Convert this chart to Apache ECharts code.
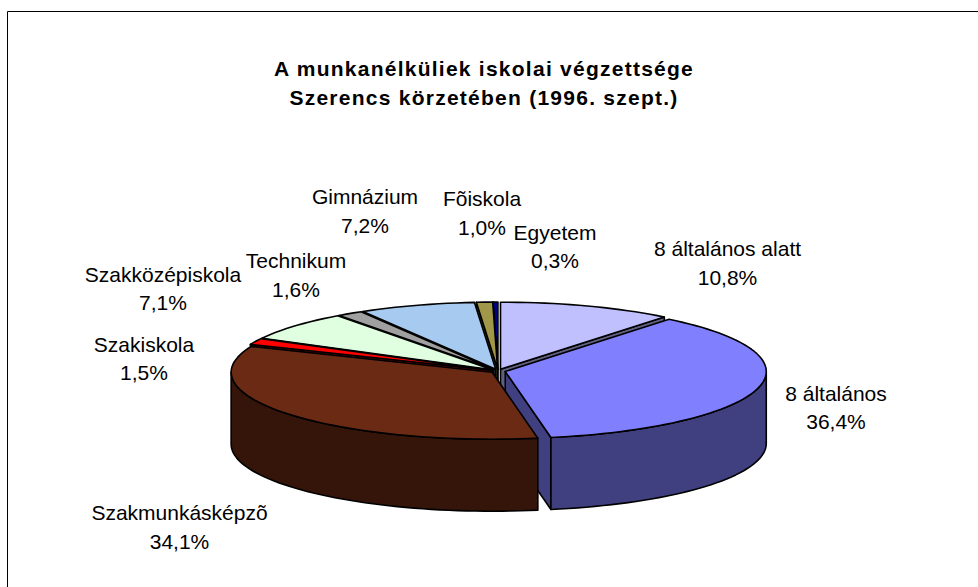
<!DOCTYPE html>
<html><head><meta charset="utf-8">
<style>html,body{margin:0;padding:0;background:#fff}#c{width:978px;height:587px}
text[style*="bold"]{letter-spacing:1.25px}</style>
<script src="https://cdn.jsdelivr.net/npm/echarts@6/dist/echarts.min.js"></script>
</head><body><div id="c"></div>
<script>
const titleLines = ['A munkanélküliek iskolai végzettsége', 'Szerencs körzetében (1996. szept.)'];
const categories = ['8 általános alatt','8 általános','Szakmunkásképzõ','Szakiskola','Szakközépiskola','Technikum','Gimnázium','Fõiskola','Egyetem'];
const shares = [10.8,36.4,34.1,1.5,7.1,1.6,7.2,1.0,0.3];
const topColors = ['#C0C0FF','#8080FF','#6B2A14','#FF0000','#E0FFE0','#A0A0A0','#A6CAF0','#A09848','#000080'];
const wallColors = ['#606080','#404080','#35150A','#800000','#708070','#505050','#536578','#504C24','#000040'];
const labelCentres = [[727.5,263],[836,407.5],[179.5,527],[144,358.5],[163,288.5],[296,275],[365,211],[482,213],[555,246.5]];
const CX=498, CY=371, RX=261, RY=67, DEPTH=72, EXPLODE=7.5, STEP=2;

const total = shares.reduce((a,b)=>a+b,0);
const rows = []; let acc = 0;
shares.forEach((v,i)=>{ const s=acc/total*360, e=(acc+v)/total*360; acc+=v; rows.push({i,s,e,mid:(s+e)/2}); });
const rad = d=>d*Math.PI/180;
const paintOrder = rows.slice().sort((a,b)=>Math.cos(rad(b.mid))-Math.cos(rad(a.mid)));
const stroke = {stroke:'#000',lineWidth:1.6,lineJoin:'round'};
function renderSlice(params, api){
  const r = paintOrder[api.value(0)];
  const ox = CX+Math.sin(rad(r.mid))*EXPLODE, oy = CY-Math.cos(rad(r.mid))*EXPLODE*RY/RX;
  const pt = (d,dz)=>[ox+Math.sin(rad(d))*RX, oy-Math.cos(rad(d))*RY+dz];
  const arc=(a,b,dz)=>{const p=[];const n=Math.max(1,Math.ceil((b-a)/STEP));for(let k=0;k<=n;k++)p.push(pt(a+(b-a)*k/n,dz));return p;};
  const c=[ox,oy], cd=[ox,oy+DEPTH];
  const wall=wallColors[r.i];
  const kids=[];
  const poly=(pts,fill)=>kids.push({type:'polygon',shape:{points:pts},style:Object.assign({fill},stroke)});
  if(Math.sin(rad(r.s))<0) poly([c,pt(r.s,0),pt(r.s,DEPTH),cd],wall);
  if(Math.sin(rad(r.e))>0) poly([c,pt(r.e,0),pt(r.e,DEPTH),cd],wall);
  const a=Math.max(r.s,90), b=Math.min(r.e,270);
  if(b>a) poly(arc(a,b,0).concat(arc(a,b,DEPTH).reverse()),wall);
  poly([c].concat(arc(r.s,r.e,0)),topColors[r.i]);
  return {type:'group',children:kids};
}
function renderLabel(params, api){
  const i=api.value(0), pos=labelCentres[i];
  return {type:'text',x:pos[0],y:pos[1],style:{text:categories[i]+'\n'+shares[i].toFixed(1).replace('.',',')+'%',
    fill:'#000',font:'21px "Liberation Sans", Arial, sans-serif',align:'center',verticalAlign:'middle',lineHeight:28.5}};
}
const chart = echarts.init(document.getElementById('c'),null,{renderer:'svg',width:978,height:587});
chart.setOption({
  animation:false, backgroundColor:'#fff',
  title:{text:titleLines.join('\n'),left:479,top:48.5,textAlign:'center',
    textStyle:{fontFamily:'"Liberation Sans", Arial, sans-serif',fontWeight:'bold',fontSize:21,lineHeight:29,color:'#000'}},
  graphic:[{type:'rect',silent:true,shape:{x:7.5,y:11.5,width:1000,height:600},style:{fill:'none',stroke:'#000',lineWidth:1}}],
  series:[
    {type:'custom',coordinateSystem:'none',silent:true,data:paintOrder.map((r,k)=>[k]),renderItem:renderSlice,clip:false},
    {type:'custom',coordinateSystem:'none',silent:true,data:rows.map(r=>[r.i]),renderItem:renderLabel,clip:false}
  ]
});
</script></body></html>
